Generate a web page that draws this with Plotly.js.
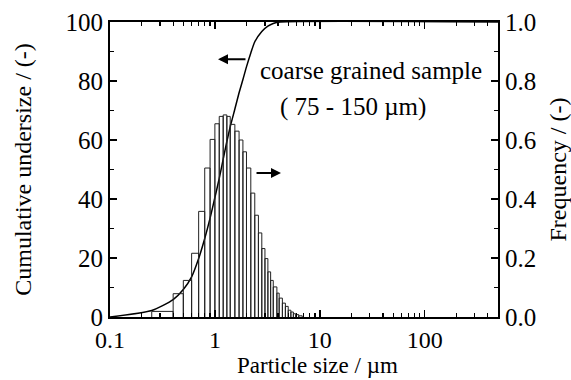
<!DOCTYPE html>
<html>
<head>
<meta charset="utf-8">
<script src="https://cdn.plot.ly/plotly-3.0.1.min.js"></script>
<style>html,body{margin:0;padding:0;background:#fff;}#chart{width:571px;height:380px;}</style>
</head>
<body>
<div id="chart"></div>
<script>
// Histogram bin edges (µm) and frequency per bin (right axis)
const binEdges = [0.25, 0.4, 0.5, 0.6, 0.7, 0.8, 0.9, 1.0, 1.1, 1.2, 1.3, 1.4, 1.55, 1.7, 1.85, 2.0, 2.2, 2.4, 2.6, 2.8, 3.0, 3.2, 3.4, 3.6, 3.9, 4.1, 4.4, 4.7, 5.0, 5.3, 5.6, 5.9, 6.3, 6.8];
const frequency = [0.019, 0.079, 0.124, 0.216, 0.358, 0.505, 0.602, 0.655, 0.680, 0.685, 0.680, 0.653, 0.630, 0.600, 0.560, 0.505, 0.420, 0.345, 0.285, 0.232, 0.198, 0.153, 0.124, 0.102, 0.081, 0.064, 0.047, 0.036, 0.023, 0.017, 0.011, 0.008, 0.004];

// Cumulative undersize curve (left axis)
const cumSize = [0.1, 0.25, 0.4, 0.5, 0.6, 0.7, 0.8, 0.9, 1.0, 1.1, 1.2, 1.3, 1.4, 1.55, 1.7, 1.85, 2.0, 2.2, 2.4, 2.8, 3.2, 3.6, 4.2, 500];
const cumUndersize = [0, 2.2, 5.9, 9.3, 13.6, 19.8, 26.6, 33.5, 40.5, 47, 53.5, 59.5, 64.5, 70.5, 76, 80.5, 84.8, 89.5, 93.3, 96.8, 98.6, 99.5, 100, 100];

// Axis ticks
const xTickVals = [0.1, 1, 10, 100];
const xTickText = ["0.1", "1", "10", "100"];
const xMinorVals = [0.2,0.3,0.4,0.5,0.6,0.7,0.8,0.9,2,3,4,5,6,7,8,9,20,30,40,50,60,70,80,90,200,300,400];

// Build outlined bars
const bx = [], by = [];
for (let i = 0; i < frequency.length; i++) {
  bx.push(binEdges[i], binEdges[i], binEdges[i+1], binEdges[i+1], null);
  by.push(0, frequency[i], frequency[i], 0, null);
}

const font = {family: '"Liberation Serif", "Times New Roman", serif', size: 25, color: '#000'};
const xfont = {family: '"Liberation Serif", "Times New Roman", serif', size: 24, color: '#000'};
const tfont = {family: '"Liberation Serif", "Times New Roman", serif', size: 24, color: '#000'};
const xtfont = {family: '"Liberation Serif", "Times New Roman", serif', size: 23, color: '#000'};

const traces = [
  {x: bx, y: by, type: 'scatter', mode: 'lines', yaxis: 'y2',
   line: {color: '#222', width: 1}, hoverinfo: 'skip', showlegend: false},
  {x: cumSize, y: cumUndersize, type: 'scatter', mode: 'lines',
   line: {color: '#000', width: 1.5, shape: 'spline', smoothing: 0.6}, showlegend: false},
  {x: cumSize, y: cumUndersize, type: 'scatter', mode: 'markers', xaxis: 'x2',
   marker: {opacity: 0, size: 1}, hoverinfo: 'skip', showlegend: false}
];

const lg = v => Math.log10(v);

const tickCommon = {ticks: 'inside', ticklen: 7, tickwidth: 1.5, tickcolor: '#000',
  showline: true, linecolor: '#000', linewidth: 2, showgrid: false, zeroline: false};

const layout = {
  width: 571, height: 380,
  margin: {l: 110, r: 73, t: 22, b: 63},
  paper_bgcolor: '#fff', plot_bgcolor: '#fff',
  font: font,
  showlegend: false,
  xaxis: Object.assign({
    type: 'log', range: [-1, Math.log10(500)],
    tickmode: 'array', tickvals: xTickVals, ticktext: xTickText,
    minor: {tickmode: 'array', tickvals: xMinorVals, ticks: 'inside', ticklen: 4, tickwidth: 1.2, tickcolor: '#000'},
    tickfont: xfont
  }, tickCommon),
  xaxis2: Object.assign({
    type: 'log', range: [-1, Math.log10(500)], overlaying: 'x', side: 'top',
    tickmode: 'array', tickvals: xTickVals, showticklabels: false,
    minor: {tickmode: 'array', tickvals: xMinorVals, ticks: 'inside', ticklen: 4, tickwidth: 1.2, tickcolor: '#000'}
  }, tickCommon),
  yaxis: Object.assign({
    range: [0, 100], tickmode: 'linear', tick0: 0, dtick: 20,
    minor: {dtick: 10, ticks: 'inside', ticklen: 4, tickwidth: 1.2, tickcolor: '#000'},
    tickfont: font,
    title: {text: 'Cumulative undersize / (-)', font: tfont, standoff: 27}
  }, tickCommon),
  yaxis2: Object.assign({
    overlaying: 'y', side: 'right',
    range: [0, 1], tickmode: 'linear', tick0: 0, dtick: 0.2, tickformat: '.1f',
    minor: {dtick: 0.1, ticks: 'inside', ticklen: 4, tickwidth: 1.2, tickcolor: '#000'},
    tickfont: font,
    title: {text: 'Frequency / (-)', font: tfont, standoff: 14}
  }, tickCommon),
  annotations: [
    {xref: 'paper', yref: 'paper', x: 0.535, y: -0.165, xanchor: 'center', yanchor: 'middle',
     text: 'Particle size / µm', showarrow: false, font: xtfont},
    {xref: 'x', yref: 'y', x: lg(2.58), y: 83.7, xanchor: 'left', yanchor: 'middle',
     text: 'coarse grained sample', showarrow: false, font: font},
    {xref: 'x', yref: 'y', x: lg(4.0), y: 71.2, xanchor: 'left', yanchor: 'middle',
     text: '( 75 - 150 µm)', showarrow: false, font: font},
    {xref: 'x', yref: 'y', x: lg(1.07), y: 87.4, text: '', showarrow: true,
     ax: 29, ay: 0, arrowhead: 2, arrowsize: 1, arrowwidth: 2, arrowcolor: '#000'},
    {xref: 'x', yref: 'y', x: lg(4.27), y: 48.8, text: '', showarrow: true,
     ax: -26, ay: 0, arrowhead: 2, arrowsize: 1, arrowwidth: 2, arrowcolor: '#000'}
  ]
};

Plotly.newPlot('chart', traces, layout, {displayModeBar: false, staticPlot: true});
</script>
</body>
</html>
